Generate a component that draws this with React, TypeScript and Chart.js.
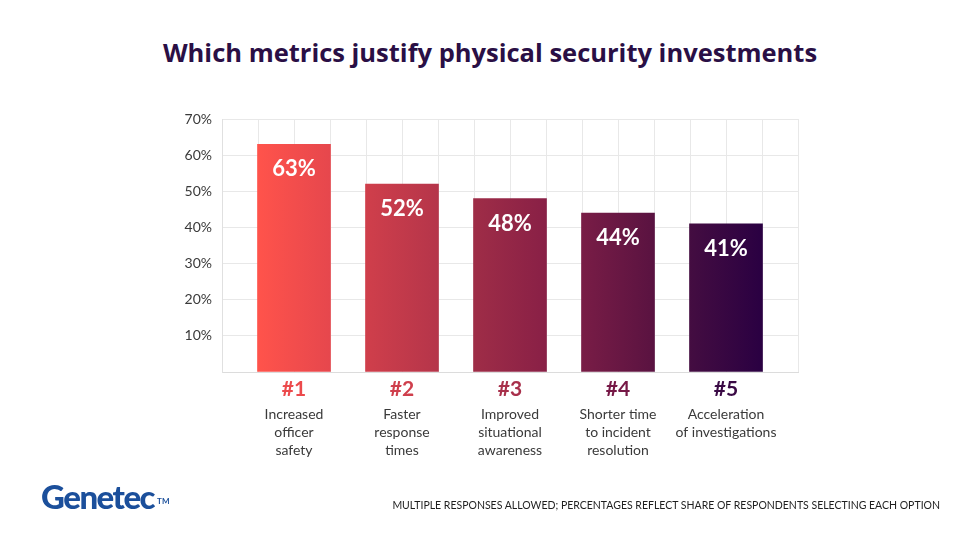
import React, { useEffect, useRef } from "react";
import { Chart, registerables } from "chart.js";

Chart.register(...registerables);

const ranks = ["#1", "#2", "#3", "#4", "#5"];
const categories: string[][] = [
  ["Increased", "officer", "safety"],
  ["Faster", "response", "times"],
  ["Improved", "situational", "awareness"],
  ["Shorter time", "to incident", "resolution"],
  ["Acceleration", "of investigations"],
];
const values = [63, 52, 48, 44, 41];
const rankColors = ["#ec4a4c", "#cf3f4c", "#a8304b", "#761846", "#3a0a45"];
const yTicks = [10, 20, 30, 40, 50, 60, 70];

// x positions on a 0..16 grid (each category every 3 grid steps, starting at 2)
const posOf = (i: number) => 2 + 3 * i;
const idxOf = (v: number) => {
  const k = (v - 2) / 3;
  return Number.isInteger(k) && k >= 0 && k < values.length ? k : -1;
};

const FONT = "Lato, 'Open Sans', sans-serif";

export default function App() {
  const ref = useRef<HTMLCanvasElement | null>(null);

  useEffect(() => {
    document.body.style.margin = "0";
    const canvas = ref.current;
    if (!canvas) return;

    const valueLabels = {
      id: "valueLabels",
      afterDatasetsDraw(chart: any) {
        const ctx = chart.ctx;
        const meta = chart.getDatasetMeta(0);
        ctx.save();
        ctx.fillStyle = "#ffffff";
        ctx.font = `bold 22px ${FONT}`;
        ctx.textAlign = "center";
        ctx.textBaseline = "middle";
        meta.data.forEach((bar: any, i: number) => {
          ctx.fillText(values[i] + "%", bar.x, bar.y + 25);
        });
        ctx.restore();
      },
    };

    const chart = new Chart(canvas, {
      type: "bar",
      data: {
        datasets: [
          {
            data: values.map((v, i) => ({ x: posOf(i), y: v })),
            backgroundColor: (c: any) => {
              const ch = c.chart;
              const sx = ch.scales?.x;
              if (!ch.chartArea || !sx) return "#c03a4a";
              const x0 = sx.getPixelForValue(posOf(0)) - 36;
              const x1 = sx.getPixelForValue(posOf(values.length - 1)) + 36;
              const g = ch.ctx.createLinearGradient(x0, 0, x1, 0);
              g.addColorStop(0, "#ff534b");
              g.addColorStop(0.143, "#e6474d");
              g.addColorStop(0.212, "#d03f4b");
              g.addColorStop(0.357, "#b5354a");
              g.addColorStop(0.426, "#9f2d47");
              g.addColorStop(0.57, "#892046");
              g.addColorStop(0.636, "#7a1d46");
              g.addColorStop(0.78, "#5b1341");
              g.addColorStop(0.855, "#440d41");
              g.addColorStop(1, "#2a0042");
              return g;
            },
            borderWidth: 0,
            barThickness: 73,
          },
        ],
      },
      options: {
        animation: false,
        responsive: false,
        maintainAspectRatio: false,
        layout: { padding: { left: 160, right: 182, top: 119, bottom: 60 } },
        plugins: {
          legend: { display: false },
          tooltip: { enabled: false },
          title: { display: false },
        },
        scales: {
          x: {
            type: "linear",
            min: 0,
            max: 16,
            offset: false,
            position: "bottom",
            grid: { color: "#e8e8e8", drawTicks: false, lineWidth: 1, offset: false },
            border: { display: true, color: "#dcdcdc" },
            afterFit: (s: any) => {
              s.height = 33;
            },
            ticks: {
              stepSize: 1,
              autoSkip: false,
              minRotation: 0,
              maxRotation: 0,
              padding: 5,
              font: { family: FONT, size: 21, weight: "bold" },
              color: (c: any) => {
                const k = idxOf(c.tick?.value);
                return k >= 0 ? rankColors[k] : "#000";
              },
              callback: (v: any) => {
                const k = idxOf(Number(v));
                return k >= 0 ? ranks[k] : "";
              },
            },
          },
          x2: {
            type: "linear",
            min: 0,
            max: 16,
            offset: false,
            position: "bottom",
            grid: { display: false, drawTicks: false, offset: false },
            border: { display: false },
            afterFit: (s: any) => {
              s.height = 87;
            },
            ticks: {
              stepSize: 1,
              autoSkip: false,
              minRotation: 0,
              maxRotation: 0,
              padding: 0,
              color: "#3a3a3a",
              font: { family: FONT, size: 14, lineHeight: 1.29 },
              callback: (v: any) => {
                const k = idxOf(Number(v));
                return k >= 0 ? categories[k] : "";
              },
            },
          },
          y: {
            min: 0,
            max: 70,
            grid: { color: "#e8e8e8", drawTicks: false },
            border: { display: true, color: "#e0e0e0" },
            afterFit: (s: any) => {
              s.width = 62;
            },
            ticks: {
              stepSize: 10,
              padding: 10,
              color: "#3a3a3a",
              font: { family: FONT, size: 14 },
              callback: (v: any) =>
                yTicks.includes(Number(v)) ? v + "%" : "",
            },
          },
        },
      },
      plugins: [valueLabels],
    } as any);

    return () => chart.destroy();
  }, []);

  return (
    <div
      style={{
        position: "relative",
        width: 980,
        height: 552,
        background: "#ffffff",
        overflow: "hidden",
        fontFamily: FONT,
      }}
    >
      <div
        style={{
          position: "absolute",
          top: 34,
          left: 0,
          width: 980,
          textAlign: "center",
          fontSize: 25.5,
          fontWeight: 700,
          color: "#2a0f45",
          lineHeight: "36px",
          fontFamily: "'Open Sans', Lato, sans-serif",
        }}
      >
        Which metrics justify physical security investments
      </div>
      <canvas
        ref={ref}
        width={980}
        height={552}
        style={{ position: "absolute", left: 0, top: 0, width: 980, height: 552 }}
      />
      <div
        style={{
          position: "absolute",
          left: 41,
          top: 476,
          fontSize: 33,
          fontWeight: 900,
          color: "#1b4f9b",
          letterSpacing: -1.5,
          fontFamily: "Lato, 'Open Sans', sans-serif",
          lineHeight: "40px",
        }}
      >
        Genetec
        <span style={{ fontSize: 8, verticalAlign: "top", letterSpacing: 0, fontWeight: 700, position: "relative", top: 5, marginLeft: 3 }}>
          TM
        </span>
      </div>
      <div
        style={{
          position: "absolute",
          right: 40,
          top: 498,
          fontSize: 10.5,
          color: "#1e1e1e",
          letterSpacing: 0,
          lineHeight: "14px",
          whiteSpace: "nowrap",
        }}
      >
        MULTIPLE RESPONSES ALLOWED; PERCENTAGES REFLECT SHARE OF RESPONDENTS SELECTING EACH OPTION
      </div>
    </div>
  );
}
